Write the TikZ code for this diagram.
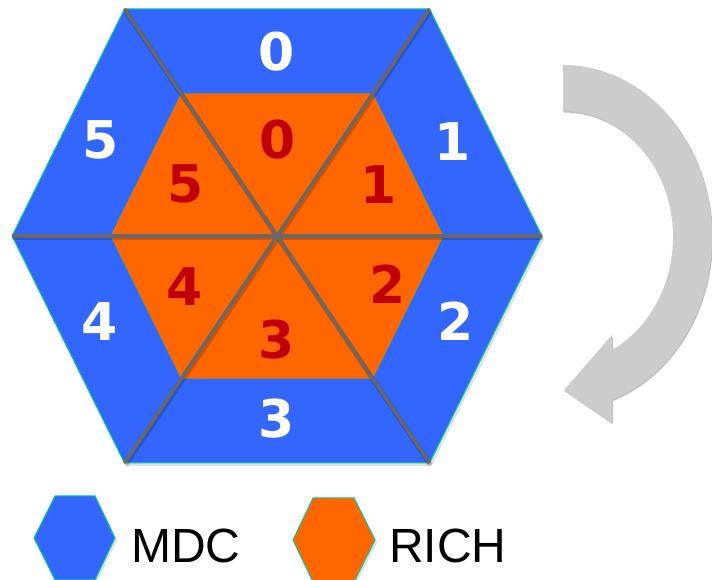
\documentclass[tikz,border=0pt]{standalone}
\usepackage{fontspec}
\setmainfont{Liberation Sans}
\newfontfamily\labfont{DejaVu Sans}
\definecolor{mdcblue}{HTML}{3366FF}
\definecolor{richorange}{HTML}{FF6600}
\definecolor{labred}{HTML}{C00000}
\definecolor{edgeteal}{HTML}{00CC99}
\definecolor{spoke}{HTML}{686868}
\definecolor{arrowgray}{HTML}{CCCCCC}
\begin{document}
\begin{tikzpicture}[x=1pt,y=1pt,
  outerlab/.style={inner sep=0pt,text=white,font=\labfont\bfseries\fontsize{52}{52}\selectfont},
  innerlab/.style={inner sep=0pt,text=labred,font=\labfont\bfseries\fontsize{52}{52}\selectfont},
  spokeline/.style={draw=spoke,line width=3.6pt},
  spokeshadow/.style={draw=black,opacity=0.18,line width=5pt},
  legtext/.style={inner sep=0pt,anchor=base west,font=\fontsize{48}{48}\selectfont}]
\useasboundingbox (0,0) rectangle (712,580);
% outer hexagon vertices
\coordinate (C) at (277,344);
\coordinate (oR) at (542,344);
\coordinate (oTR) at (429.5,571);
\coordinate (oTL) at (124.5,571);
\coordinate (oL) at (12,344);
\coordinate (oBL) at (124.5,117);
\coordinate (oBR) at (429.5,117);
% inner hexagon vertices
\coordinate (iR) at (443,344);
\coordinate (iTR) at (372.6,486.3);
\coordinate (iTL) at (181.4,486.3);
\coordinate (iL) at (111,344);
\coordinate (iBL) at (181.4,201.7);
\coordinate (iBR) at (372.6,201.7);
% shadows
\fill[black,opacity=0.12] ([shift={(2,-3)}]oR) -- ([shift={(2,-3)}]oTR) -- ([shift={(2,-3)}]oTL) -- ([shift={(2,-3)}]oL) -- ([shift={(2,-3)}]oBL) -- ([shift={(2,-3)}]oBR) -- cycle;
% outer hexagon
\filldraw[fill=mdcblue,draw=edgeteal,line width=1pt] (oR) -- (oTR) -- (oTL) -- (oL) -- (oBL) -- (oBR) -- cycle;
% inner hexagon
\filldraw[fill=richorange,draw=olive!60!richorange,line width=0.8pt] (iR) -- (iTR) -- (iTL) -- (iL) -- (iBL) -- (iBR) -- cycle;
% spokes
\draw[spokeshadow] ([shift={(1,-2)}]oL) -- ([shift={(1,-2)}]oR);
\draw[spokeshadow] ([shift={(1,-2)}]oTL) -- ([shift={(1,-2)}]oBR);
\draw[spokeshadow] ([shift={(1,-2)}]oTR) -- ([shift={(1,-2)}]oBL);
\draw[spokeline] (oL) -- (oR);
\draw[spokeline] (oTL) -- (oBR);
\draw[spokeline] (oTR) -- (oBL);
% outer labels
\node[outerlab] (o0) at (277,528) {0};
\node[outerlab] (o1) at (453,438) {1};
\node[outerlab] (o2) at (456,259) {2};
\node[outerlab] (o3) at (277,161) {3};
\node[outerlab] (o4) at (100,258) {4};
\node[outerlab] (o5) at (101,440) {5};
% inner labels
\node[innerlab] (i0) at (278,440) {0};
\node[innerlab] (i1) at (379,395) {1};
\node[innerlab] (i2) at (388,296) {2};
\node[innerlab] (i3) at (277,240) {3};
\node[innerlab] (i4) at (185,293) {4};
\node[innerlab] (i5) at (186,396) {5};
% rotation arrow
\fill[gray!70,opacity=0.7] (564,513.5) arc[start angle=90,end angle=-70.8,x radius=149,y radius=172]
  -- (613,155.5) -- (565,188.5) -- (613,243.5) -- (612.9,228.6)
  arc[start angle=-63.6,end angle=90,x radius=110,y radius=126] -- cycle;
\fill[arrowgray] (563,515) arc[start angle=90,end angle=-70.8,x radius=149,y radius=172]
  -- (612,157) -- (564,190) -- (612,245) -- (611.9,230.1)
  arc[start angle=-63.6,end angle=90,x radius=110,y radius=126] -- cycle;
% legend
\fill[black,opacity=0.12] (36,40) -- (57,-2) -- (97,-2) -- (117,40) -- (97,82) -- (57,82) -- cycle;
\filldraw[fill=mdcblue,draw=edgeteal,line width=1pt] (34,42) -- (55,0) -- (95,0) -- (115,42) -- (95,84) -- (55,84) -- cycle;
\node[legtext] (mdc) at (131,17) {MDC};
\fill[black,opacity=0.12] (295,38) -- (315,-4) -- (356,-4) -- (377,38) -- (356,80) -- (315,80) -- cycle;
\filldraw[fill=richorange,draw=edgeteal,line width=1pt] (293,40) -- (313,-2) -- (354,-2) -- (375,40) -- (354,82) -- (313,82) -- cycle;
\node[legtext] (rich) at (389,17) {RICH};
\end{tikzpicture}
\end{document}
